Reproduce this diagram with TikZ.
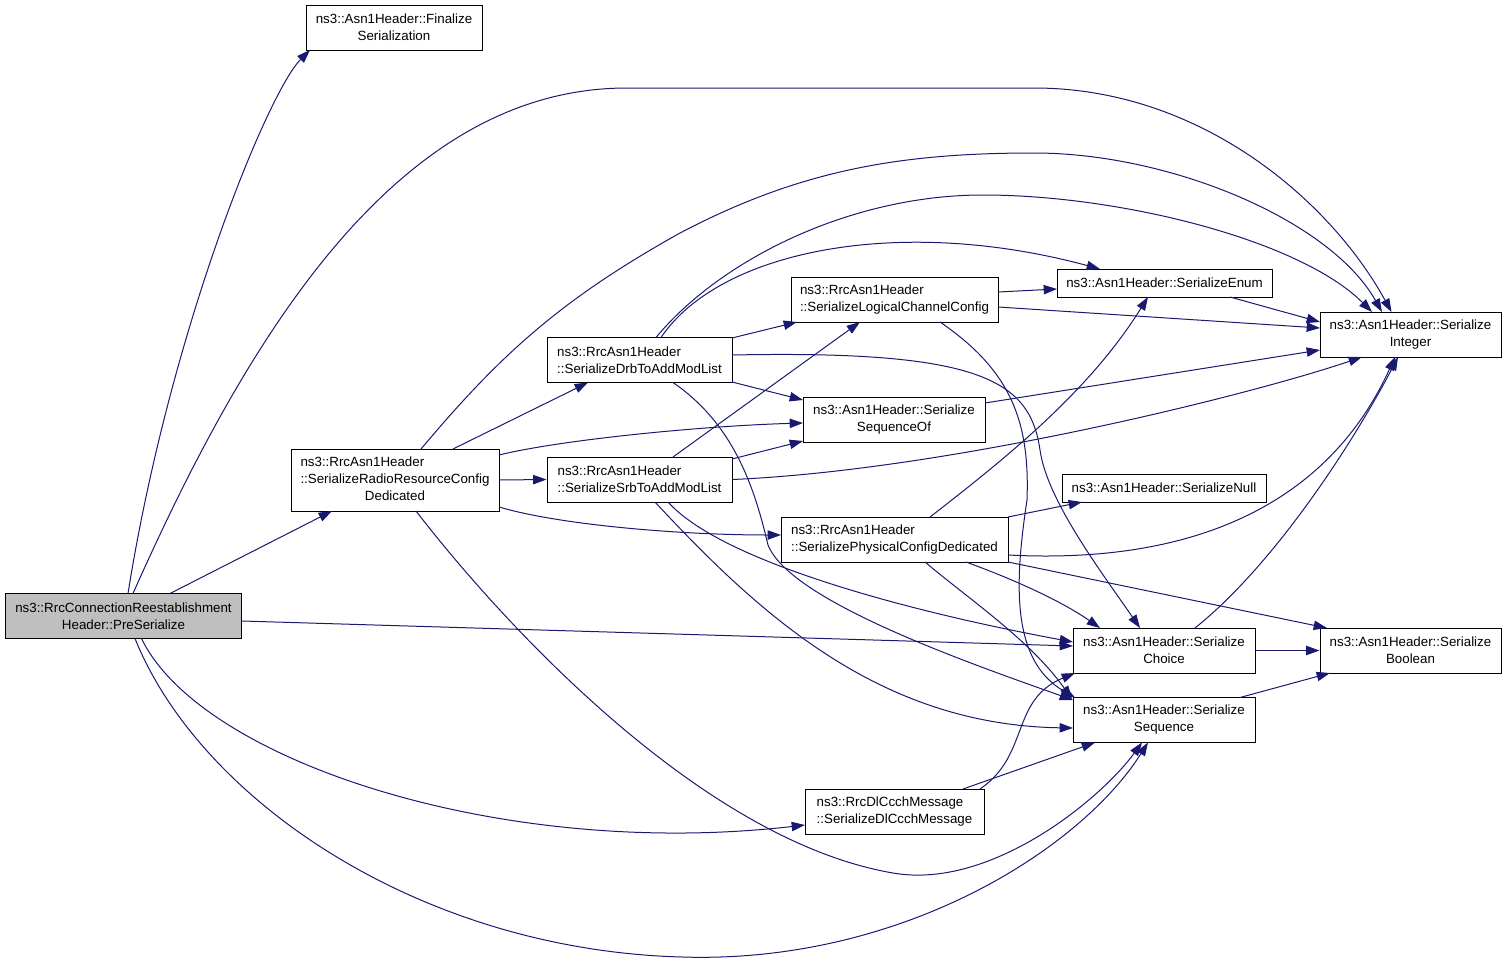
\documentclass[tikz,border=0pt]{standalone}
\usepackage{fontspec}
\setmainfont{Liberation Sans}
\usetikzlibrary{arrows.meta,calc}
\definecolor{edgeblue}{RGB}{25,25,112}
\definecolor{rootgray}{RGB}{191,191,191}
\tikzset{
  fn/.style={draw=black, fill=white, line width=0.75pt, inner sep=1pt, minimum height=33.75pt, font=\fontsize{10}{12.75}\selectfont},
  wd/.style={minimum width=#1*0.75pt},
  oneline/.style={minimum height=21pt},
  call/.style={draw=edgeblue, line width=0.75pt, -{Triangle[length=10pt,width=7pt]}},
}
\begin{document}
\begin{tikzpicture}[x=0.75pt,y=-0.75pt]
\useasboundingbox (0,0) rectangle (1507,964);

\node (fin) at (394,27.5) [fn,wd=176,align=center] {ns3::Asn1Header::Finalize\\Serialization};
\node (pre) at (123.5,616) [fn,wd=236,align=center,fill=rootgray] {ns3::RrcConnectionReestablishment\\Header::PreSerialize};
\node (rrc) at (395,480) [fn,wd=208,minimum height=46.5pt] {\begin{tabular}{@{}l@{}}ns3::RrcAsn1Header\\::SerializeRadioResourceConfig\\\multicolumn{1}{@{}c@{}}{Dedicated}\end{tabular}};
\node (drb) at (639.5,360) [fn,wd=185,align=left] {ns3::RrcAsn1Header\\::SerializeDrbToAddModList};
\node (srb) at (639.5,479.5) [fn,wd=185,align=left] {ns3::RrcAsn1Header\\::SerializeSrbToAddModList};
\node (lcc) at (894.5,299.5) [fn,wd=207,align=left] {ns3::RrcAsn1Header\\::SerializeLogicalChannelConfig};
\node (sqo) at (894,419.5) [fn,wd=182,align=center] {ns3::Asn1Header::Serialize\\SequenceOf};
\node (phy) at (894.5,539.5) [fn,wd=227,align=left] {ns3::RrcAsn1Header\\::SerializePhysicalConfigDedicated};
\node (dlc) at (894.5,811.5) [fn,wd=179,align=left] {ns3::RrcDlCcchMessage\\::SerializeDlCcchMessage};
\node (enm) at (1164.5,283) [fn,wd=215,oneline] {ns3::Asn1Header::SerializeEnum};
\node (nul) at (1164,488) [fn,wd=204,oneline] {ns3::Asn1Header::SerializeNull};
\node (cho) at (1164,650.5) [fn,wd=182,align=center] {ns3::Asn1Header::Serialize\\Choice};
\node (seq) at (1164,720) [fn,wd=182,align=center] {ns3::Asn1Header::Serialize\\Sequence};
\node (int) at (1410.5,334.5) [fn,wd=181,align=center] {ns3::Asn1Header::Serialize\\Integer};
\node (boo) at (1410.5,650.5) [fn,wd=181,align=center] {ns3::Asn1Header::Serialize\\Boolean};

\draw [call] ($(pre)+(4.5,-22.5)$) .. controls (170,330) and (268,92) .. ($(fin)+(-84,22.5)$);
\draw [call] ($(pre)+(9.5,-22.5)$) .. controls (250,330) and (400,88) .. (627,88) -- (1034,88) .. controls (1200,88) and (1330,200) .. ($(int)+(-19,-22.5)$);
\draw [call] ($(pre)+(46.5,-22.5)$) -- ($(rrc)+(-63,31)$);
\draw [call] ($(pre)+(118,5)$) -- ($(cho)+(-91,-4.5)$);
\draw [call] ($(pre)+(18,22.5)$) .. controls (200,760) and (500,860) .. ($(dlc)+(-89.5,13.5)$);
\draw [call] ($(pre)+(11.5,22.5)$) .. controls (200,800) and (420,950) .. (682,957) .. controls (900,964) and (1080,850) .. ($(seq)+(-16,22.5)$);

\draw [call] ($(rrc)+(58,-31)$) -- ($(drb)+(-51.5,22.5)$);
\draw [call] (rrc.east) -- (srb.west);
\draw [call] ($(rrc)+(104,-25)$) .. controls (560,440) and (700,426) .. ($(sqo)+(-91,3.5)$);
\draw [call] ($(rrc)+(104,27)$) .. controls (560,525) and (680,535) .. ($(phy)+(-113.5,-4.5)$);
\draw [call] ($(rrc)+(26,-31)$) .. controls (500,355) and (560,300) .. (680,233) .. controls (800,170) and (900,153) .. (1034,153) .. controls (1170,153) and (1330,220) .. ($(int)+(-28.5,-22.5)$);
\draw [call] ($(rrc)+(21,31)$) .. controls (500,620) and (700,840) .. (893,873) .. controls (990,890) and (1100,800) .. ($(seq)+(-22,22.5)$);

\draw [call] ($(drb)+(92.5,-22)$) -- ($(lcc)+(-97.5,22.5)$);
\draw [call] ($(drb)+(21.5,-22.5)$) .. controls (720,250) and (900,215) .. ($(enm)+(-64.5,-14)$);
\draw [call] ($(drb)+(16.5,-22.5)$) .. controls (720,260) and (850,195) .. (983,195) .. controls (1120,195) and (1300,240) .. ($(int)+(-38.5,-22.5)$);
\draw [call] ($(drb)+(92.5,22)$) -- ($(sqo)+(-91,-19.5)$);
\draw [call] ($(drb)+(92.5,-5)$) .. controls (980,350) and (1030,380) .. (1040,450) .. controls (1047,500) and (1100,570) .. ($(cho)+(-24,-22.5)$);
\draw [call] ($(drb)+(33.5,22.5)$) .. controls (735,425) and (755,490) .. (768,545) .. controls (790,600) and (960,660) .. ($(seq)+(-91,-20)$);

\draw [call] ($(srb)+(33.5,-22.5)$) -- ($(lcc)+(-34.5,22.5)$);
\draw [call] ($(srb)+(92.5,-20.5)$) -- ($(sqo)+(-91,21.5)$);
\draw [call] (srb.east) .. controls (950,470) and (1250,395) .. ($(int)+(-48.5,22.5)$);
\draw [call] ($(srb)+(28.5,22.5)$) .. controls (720,560) and (900,610) .. ($(cho)+(-91,-8.5)$);
\draw [call] ($(srb)+(15.5,22.5)$) .. controls (760,615) and (880,725) .. ($(seq)+(-91,8)$);

\draw [call] ($(lcc)+(103.5,-7.5)$) -- ($(enm)+(-107.5,6)$);
\draw [call] ($(lcc)+(103.5,7.5)$) -- ($(int)+(-90.5,-6.5)$);
\draw [call] ($(lcc)+(45.5,22.5)$) .. controls (1010,370) and (1030,420) .. (1027,500) .. controls (1015,580) and (1010,660) .. ($(seq)+(-89,-22.5)$);
\draw [call] ($(sqo)+(91,-16.5)$) -- ($(int)+(-90.5,15.5)$);

\draw [call] ($(phy)+(35.5,-22.5)$) .. controls (1010,455) and (1090,390) .. ($(enm)+(-16.5,14)$);
\draw [call] ($(phy)+(113.5,-22.5)$) -- ($(nul)+(-82,14)$);
\draw [call] ($(phy)+(113.5,15.5)$) .. controls (1200,565) and (1330,500) .. ($(int)+(-15.5,22.5)$);
\draw [call] ($(phy)+(113.5,22.5)$) -- ($(boo)+(-83.5,-22.5)$);
\draw [call] ($(phy)+(71.5,22.5)$) .. controls (1010,578) and (1060,600) .. ($(cho)+(-64,-22.5)$);
\draw [call] ($(phy)+(30.5,22.5)$) .. controls (970,600) and (1030,640) .. ($(seq)+(-92,-21)$);

\draw [call] ($(enm)+(65.5,14)$) -- ($(int)+(-90.5,-12.5)$);
\draw [call] ($(cho)+(31,-22.5)$) .. controls (1280,560) and (1360,430) .. ($(int)+(-12.5,22.5)$);
\draw [call] (cho.east) -- (boo.west);
\draw [call] ($(seq)+(76,-22.5)$) -- ($(boo)+(-80.5,22.5)$);
\draw [call] ($(dlc)+(85.5,-22.5)$) .. controls (1030,755) and (1010,700) .. ($(cho)+(-89,22.5)$);
\draw [call] ($(dlc)+(68.5,-22.5)$) -- ($(seq)+(-69,22.5)$);

\end{tikzpicture}
\end{document}
